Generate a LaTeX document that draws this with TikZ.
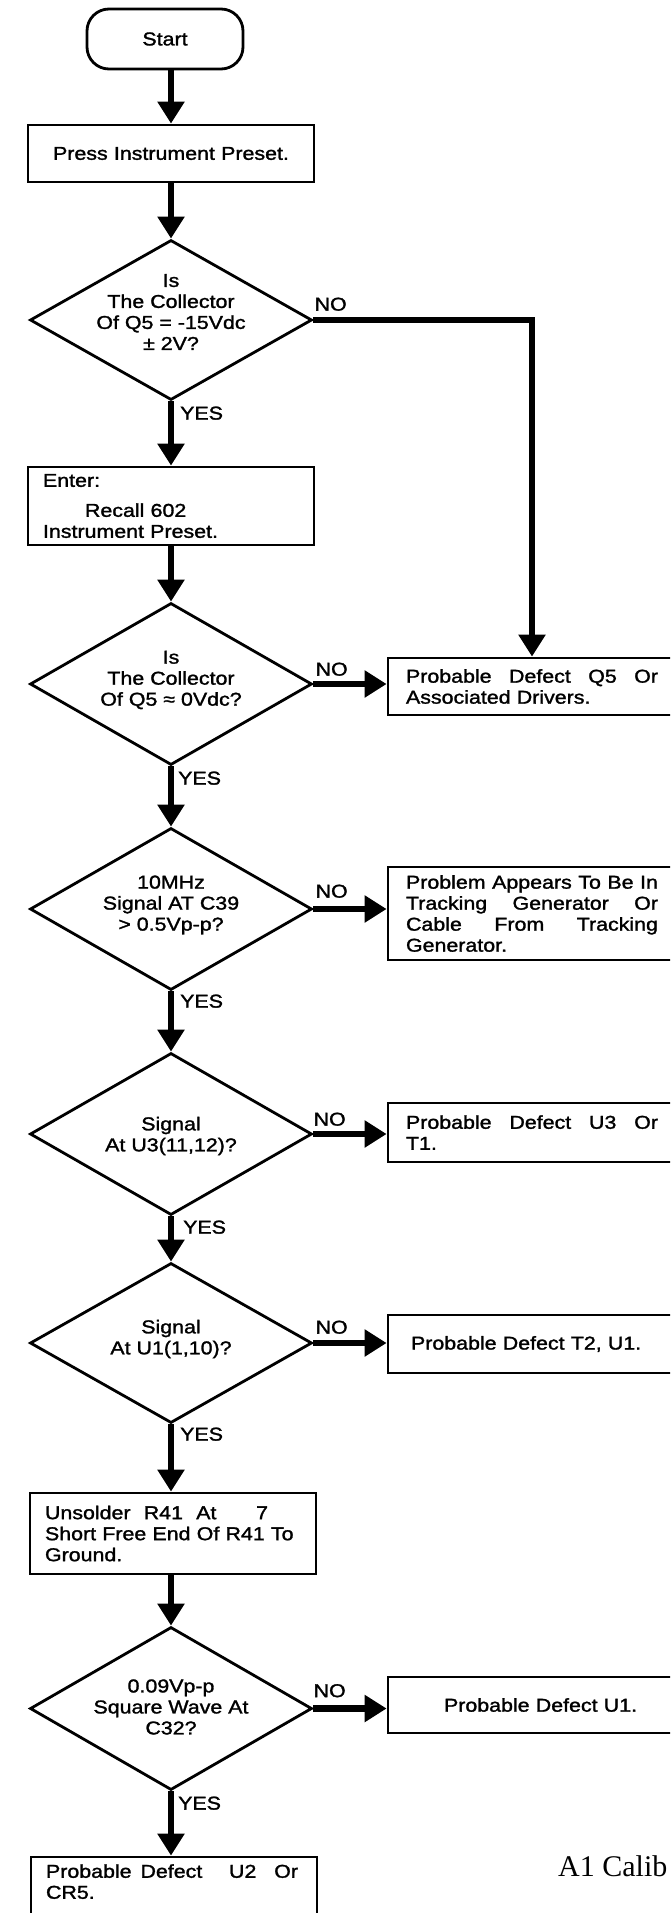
\documentclass[tikz,border=0pt]{standalone}
\usepackage{fontspec}
\setmainfont{Liberation Sans}[FakeStretch=1.15,FakeBold=1.5]
\newfontfamily\capfont{Liberation Serif}
\usepackage{tikz}
\usetikzlibrary{calc,shapes.geometric,arrows.meta}

\newcommand{\chartsize}{\fontsize{18.6pt}{21pt}\selectfont}
\newcommand{\spreadline}[1]{\makebox[252pt][s]{#1}}

\begin{document}
\begin{tikzpicture}[x=1pt,y=1pt,yscale=-1,
  flowline/.style={line width=6.5pt,-{Triangle[width=26pt,length=22pt]}},
  procbox/.style={draw,line width=2.8pt,minimum width=286pt,text width=256pt,inner xsep=15pt,inner ysep=0pt,align=left,font=\chartsize},
  decision/.style={draw,diamond,line width=2.8pt,minimum width=282pt,inner sep=0pt},
  dtext/.style={align=center,inner sep=0pt,font=\chartsize},
  answerbox/.style={draw,line width=2.8pt,minimum width=288pt,text width=252pt,inner xsep=18pt,inner ysep=0pt,align=left,font=\chartsize},
  lbl/.style={inner sep=0pt,font=\chartsize}]
\path[use as bounding box,clip] (0,0) rectangle (670,1913);

%Flowchart: Terminator [id:start] 
\node[draw,line width=2.8pt,rounded corners=22pt,minimum width=156pt,minimum height=60pt,font=\chartsize] (start) at (165,39) {Start};
%Flowchart: Process [id:box1] 
\node[procbox,align=center,minimum height=57pt] (box1) at (171,153.5) {Press Instrument Preset.};
%Flowchart: Decision [id:d1] 
\node[decision,minimum height=160pt] (d1) at (171,320) {};
%Flowchart: Process [id:box2] 
\node[procbox,minimum height=78pt] (box2) at (171,506) {Enter:\\[9pt]\hspace*{42pt}Recall 602\\Instrument Preset.};
%Flowchart: Decision [id:d2] 
\node[decision,minimum height=162pt] (d2) at (171,684) {};
%Flowchart: Decision [id:d3] 
\node[decision,minimum height=162pt] (d3) at (171,909) {};
%Flowchart: Decision [id:d4] 
\node[decision,minimum height=162pt] (d4) at (171,1134) {};
%Flowchart: Decision [id:d5] 
\node[decision,minimum height=160pt] (d5) at (171,1343) {};
%Flowchart: Process [id:box3] 
\node[procbox,minimum height=81pt] (box3) at (173,1533.5) {\makebox[223pt][s]{Unsolder\hfill R41\hfill At\hfill\hfill\hfill 7}\\Short Free End Of R41 To\\Ground.};
%Flowchart: Decision [id:d6] 
\node[decision,minimum height=163pt] (d6) at (171,1708.5) {};
%Flowchart: Process [id:box4] 
\node[procbox,minimum height=61pt,text depth=33pt] (box4) at (174,1887.5) {\spreadline{Probable\hfill Defect\hfill\hfill\hfill U2\hfill\hfill Or}\\CR5.};

%Flowchart: Process [id:r1] 
\node[answerbox,minimum height=57pt] (r1) at (532,686.5) {\spreadline{Probable\hfill Defect\hfill Q5\hfill Or}\\Associated Drivers.};
%Flowchart: Process [id:r2] 
\node[answerbox,minimum height=93pt] (r2) at (532,913.5) {\spreadline{Problem\hfill Appears\hfill To\hfill Be\hfill In}\\\spreadline{Tracking\hfill Generator\hfill Or}\\\spreadline{Cable\hfill From\hfill Tracking}\\Generator.};
%Flowchart: Process [id:r3] 
\node[answerbox,minimum height=59pt] (r3) at (532,1132.5) {\spreadline{Probable\hfill Defect\hfill U3\hfill Or}\\T1.};
%Flowchart: Process [id:r4] 
\node[answerbox,minimum height=58pt] (r4) at (532,1344) {\hspace*{5pt}Probable Defect T2, U1.};
%Flowchart: Process [id:r5] 
\node[answerbox,minimum height=56pt] (r5) at (532,1705) {\hspace*{38pt}Probable Defect U1.};

% Text Node
\node[dtext] (d1t) at (171,312) {Is\\The Collector\\Of Q5 = -15Vdc\\± 2V?};
% Text Node
\node[dtext] (d2t) at (171,680) {Is\\The Collector\\Of Q5 ≈ 0Vdc?};
% Text Node
\node[dtext] (d3t) at (171,905) {10MHz\\Signal AT C39\\> 0.5Vp-p?};
% Text Node
\node[dtext] (d4t) at (171,1136) {Signal\\At U3(11,12)?};
% Text Node
\node[dtext] (d5t) at (171,1339) {Signal\\At U1(1,10)?};
% Text Node
\node[dtext] (d6t) at (171,1707) {0.09Vp-p\\Square Wave At\\C32?};

%Straight Lines [id:main] 
\draw[flowline] (start.south -| box1.north) -- (box1);
\draw[flowline] (box1) -- (d1);
\draw[flowline] (d1) -- (box2);
\draw[flowline] (box2) -- (d2);
\draw[flowline] (d2) -- (d3);
\draw[flowline] (d3) -- (d4);
\draw[flowline] (d4) -- (d5);
\draw[flowline] (d5) -- (box3.north -| d5.south);
\draw[flowline] (box3.south -| d6.north) -- (d6);
\draw[flowline] (d6) -- (box4.north -| d6.south);
%Straight Lines [id:no] 
\draw[flowline] (d1.east) -| (r1.north);
\draw[flowline] (d2.east) -- (d2.east -| r1.west);
\draw[flowline] (d3.east) -- (d3.east -| r2.west);
\draw[flowline] (d4.east) -- (d4.east -| r3.west);
\draw[flowline] (d5.east) -- (d5.east -| r4.west);
\draw[flowline] (d6.east) -- (d6.east -| r5.west);

% Text Node
\node[lbl,anchor=south west] (no1) at ($(d1.east)+(1,-9)$) {NO};
\node[lbl,anchor=south west] (no2) at ($(d2.east)+(2,-8)$) {NO};
\node[lbl,anchor=south west] (no3) at ($(d3.east)+(2,-11)$) {NO};
\node[lbl,anchor=south west] (no4) at ($(d4.east)+(0,-8)$) {NO};
\node[lbl,anchor=south west] (no5) at ($(d5.east)+(2,-9)$) {NO};
\node[lbl,anchor=south west] (no6) at ($(d6.east)+(0,-11)$) {NO};
% Text Node
\node[lbl,anchor=north west] (yes1) at ($(d1.south)+(9,5)$) {YES};
\node[lbl,anchor=north west] (yes2) at ($(d2.south)+(7,5)$) {YES};
\node[lbl,anchor=north west] (yes3) at ($(d3.south)+(9,3)$) {YES};
\node[lbl,anchor=north west] (yes4) at ($(d4.south)+(12,4)$) {YES};
\node[lbl,anchor=north west] (yes5) at ($(d5.south)+(9,3)$) {YES};
\node[lbl,anchor=north west] (yes6) at ($(d6.south)+(7,5)$) {YES};
% Text Node
\node[anchor=base west,inner sep=0pt,font=\capfont\fontsize{30pt}{30pt}\selectfont] (caption) at (558,1876) {A1 Calib};

\end{tikzpicture}
\end{document}
